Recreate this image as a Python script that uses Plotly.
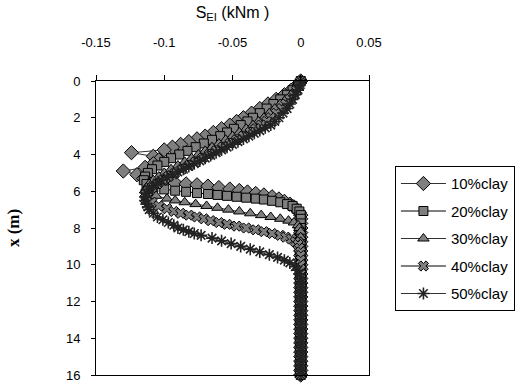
import plotly.graph_objects as go

# ---------------- data ----------------
SERIES_NAMES = ["10%clay", "20%clay", "30%clay", "40%clay", "50%clay"]

X_TICKS = [-0.15, -0.1, -0.05, 0, 0.05]
X_TICK_TEXT = ["-0.15", "-0.1", "-0.05", "0", "0.05"]
Y_TICKS = [0, 2, 4, 6, 8, 10, 12, 14, 16]

# depth x (m) and S_EI (kNm) for each series
D10 = [0, 0.25, 0.5, 0.75, 1.0, 1.25, 1.5, 1.75, 2.0, 2.2, 2.4, 2.6, 2.8, 3.0,
       3.15, 3.3, 3.45, 3.6, 3.75, 3.9, 4.1, 4.3, 4.5, 4.7, 4.9, 5.1, 5.3, 5.45,
       5.5, 5.55, 5.6, 5.65, 5.72, 5.8, 5.88, 5.96, 6.04, 6.12, 6.2, 6.3, 6.42,
       6.55, 6.7, 6.85, 7.0, 7.15, 7.3, 7.5, 7.75, 8.0, 8.25, 8.5, 8.75, 9.0,
       9.25, 9.5, 9.75, 10.0, 10.25, 10.5, 10.75]
S10 = [0, -0.003, -0.007, -0.012, -0.018, -0.024, -0.030, -0.036, -0.042, -0.047,
       -0.052, -0.058, -0.064, -0.070, -0.076, -0.082, -0.088, -0.094, -0.100,
       -0.124, -0.108, -0.104, -0.108, -0.114, -0.130, -0.120, -0.115, -0.110,
       -0.100, -0.092, -0.084, -0.076, -0.068, -0.060, -0.052, -0.045, -0.039,
       -0.033, -0.027, -0.021, -0.016, -0.012, -0.008, -0.005, -0.003, -0.001, 0,
       0, 0, 0, 0, 0, 0, 0, 0, 0, 0, 0, 0, 0, 0]

D20 = [0, 0.25, 0.5, 0.75, 1.0, 1.25, 1.5, 1.75, 2.0, 2.2, 2.4, 2.6, 2.8, 3.0,
       3.2, 3.4, 3.6, 3.8, 4.0, 4.2, 4.4, 4.6, 4.8, 5.0, 5.2, 5.4, 5.6, 5.8,
       5.9, 5.97, 6.03, 6.1, 6.15, 6.2, 6.25, 6.3, 6.35, 6.4, 6.45, 6.52, 6.6,
       6.7, 6.8, 6.95, 7.1, 7.3, 7.5, 7.75, 8.0, 8.25, 8.5, 8.75, 9.0, 9.25,
       9.5, 9.75, 10.0, 10.25, 10.5, 10.75]
S20 = [0, -0.002, -0.006, -0.010, -0.015, -0.020, -0.025, -0.030, -0.035, -0.039,
       -0.044, -0.049, -0.054, -0.059, -0.065, -0.071, -0.077, -0.083, -0.089,
       -0.095, -0.100, -0.105, -0.109, -0.112, -0.114, -0.115, -0.113, -0.108,
       -0.100, -0.092, -0.084, -0.076, -0.068, -0.061, -0.054, -0.047, -0.040,
       -0.033, -0.027, -0.021, -0.015, -0.010, -0.006, -0.003, -0.001, 0,
       0, 0, 0, 0, 0, 0, 0, 0, 0, 0, 0, 0, 0, 0]

D30 = [0, 0.25, 0.5, 0.75, 1.0, 1.25, 1.5, 1.75, 2.0, 2.2, 2.4, 2.6, 2.8, 3.0,
       3.2, 3.4, 3.6, 3.8, 4.0, 4.2, 4.4, 4.6, 4.8, 5.0, 5.2, 5.4, 5.6, 5.8,
       5.95, 6.1, 6.25, 6.4, 6.5, 6.6, 6.7, 6.8, 6.9, 7.0, 7.1, 7.2, 7.3, 7.4,
       7.5, 7.6, 7.7, 7.85, 8.0, 8.2, 8.5, 8.75, 9.0, 9.25, 9.5, 9.75, 10.0,
       10.25, 10.5, 10.75]
S30 = [0, -0.002, -0.004, -0.007, -0.011, -0.015, -0.019, -0.023, -0.027, -0.031,
       -0.035, -0.040, -0.045, -0.050, -0.055, -0.060, -0.065, -0.070, -0.075,
       -0.080, -0.085, -0.090, -0.095, -0.100, -0.104, -0.108, -0.111, -0.113,
       -0.114, -0.113, -0.106, -0.098, -0.092, -0.085, -0.077, -0.069, -0.061,
       -0.053, -0.045, -0.037, -0.029, -0.022, -0.015, -0.009, -0.005, -0.002,
       -0.001, 0, 0, 0, 0, 0, 0, 0, 0, 0, 0, 0]

D40 = [0, 0.25, 0.5, 0.75, 1.0, 1.25, 1.5, 1.75, 2.0, 2.2, 2.4, 2.6, 2.8, 3.0,
       3.2, 3.4, 3.6, 3.8, 4.0, 4.2, 4.4, 4.6, 4.8, 5.0, 5.2, 5.4, 5.6, 5.8,
       6.0, 6.2, 6.4, 6.6, 6.8, 6.95, 7.1, 7.2, 7.3, 7.4, 7.5, 7.6, 7.7, 7.8,
       7.9, 8.0, 8.1, 8.2, 8.3, 8.4, 8.5, 8.6, 8.75, 8.9, 9.1, 9.3, 9.5, 9.75,
       10.0, 10.25, 10.5, 10.75]
S40 = [0, -0.001, -0.003, -0.005, -0.008, -0.011, -0.014, -0.018, -0.022, -0.025,
       -0.029, -0.033, -0.037, -0.042, -0.047, -0.052, -0.057, -0.062, -0.067,
       -0.072, -0.077, -0.082, -0.087, -0.092, -0.097, -0.101, -0.105, -0.109,
       -0.112, -0.114, -0.114, -0.109, -0.104, -0.098, -0.093, -0.088, -0.082,
       -0.076, -0.071, -0.066, -0.060, -0.054, -0.047, -0.040, -0.033, -0.027,
       -0.021, -0.015, -0.011, -0.007, -0.004, -0.002, -0.001, 0,
       0, 0, 0, 0, 0, 0]

D50 = [0, 0.25, 0.5, 0.75, 1.0, 1.25, 1.5, 1.75, 2.0, 2.2, 2.4, 2.55, 2.7, 2.85,
       3.0, 3.15, 3.3, 3.45, 3.6, 3.75, 3.9, 4.05, 4.2, 4.35, 4.5, 4.65, 4.8,
       4.95, 5.1, 5.25, 5.4, 5.55, 5.7, 5.9, 6.1, 6.3, 6.5, 6.7, 6.85, 7.0, 7.2,
       7.4, 7.55, 7.7, 7.85, 8.0, 8.1, 8.2, 8.3, 8.4, 8.55, 8.7, 8.85, 9.0,
       9.15, 9.3, 9.45, 9.6, 9.75, 9.9, 10.1, 10.3, 10.5, 10.75]
S50 = [0, -0.001, -0.002, -0.004, -0.006, -0.008, -0.010, -0.013, -0.016, -0.019,
       -0.022, -0.026, -0.030, -0.034, -0.038, -0.042, -0.046, -0.050, -0.054,
       -0.058, -0.062, -0.066, -0.070, -0.074, -0.078, -0.082, -0.086, -0.090,
       -0.094, -0.098, -0.102, -0.105, -0.108, -0.111, -0.113, -0.114, -0.114,
       -0.113, -0.112, -0.111, -0.108, -0.105, -0.101, -0.097, -0.093, -0.090,
       -0.086, -0.082, -0.078, -0.073, -0.065, -0.058, -0.051, -0.044, -0.037,
       -0.030, -0.023, -0.017, -0.012, -0.008, -0.004, -0.002, -0.001, 0]

# common deep part (all series are zero below ~11 m)
TAIL_D = [11, 11.25, 11.5, 11.75, 12, 12.25, 12.5, 12.75, 13, 13.25, 13.5,
          13.75, 14, 14.25, 14.5, 14.75, 15, 15.25, 15.5, 15.75, 16]
TAIL_S = [0, 0, 0, 0, 0, 0, 0, 0, 0, 0, 0, 0, 0, 0, 0, 0, 0, 0, 0, 0, 0]

DEPTHS = [D10, D20, D30, D40, D50]
VALUES = [S10, S20, S30, S40, S50]

# ---------------- styles ----------------
GREY = "#7f7f7f"
STYLES = [
    dict(symbol="diamond", size=11, color=GREY, line=dict(color="#000", width=1)),
    dict(symbol="square", size=9, color=GREY, line=dict(color="#000", width=1)),
    dict(symbol="triangle-up", size=10, color=GREY, line=dict(color="#000", width=1)),
    dict(symbol="x", size=9, color=GREY, line=dict(color="#000", width=1)),
    dict(symbol="asterisk", size=10, color="#222", line=dict(color="#222", width=1.6)),
]
LINE_COLORS = ["#333", "#000", "#333", "#000", "#333"]

fig = go.Figure()
for i, name in enumerate(SERIES_NAMES):
    fig.add_trace(go.Scatter(
        x=VALUES[i] + TAIL_S,
        y=DEPTHS[i] + TAIL_D,
        mode="lines+markers",
        name=name,
        legendgroup=name,
        line=dict(color=LINE_COLORS[i], width=1),
        marker=STYLES[i],
        cliponaxis=False,
    ))

fig.update_layout(
    width=529, height=384,
    margin=dict(l=96, r=160, t=81, b=9, autoexpand=False),
    paper_bgcolor="white", plot_bgcolor="white",
    font=dict(family="Arial, Liberation Sans, sans-serif", color="#000", size=13),
    showlegend=True,
    legend=dict(
        x=1.095, y=0.71, xanchor="left", yanchor="top",
        bordercolor="#000", borderwidth=1, bgcolor="white",
        font=dict(size=15, family="Arial, Liberation Sans, sans-serif"),
        traceorder="grouped", tracegroupgap=5, itemwidth=45,
    ),
)

fig.update_xaxes(
    side="top", range=[-0.15, 0.05],
    tickmode="array", tickvals=X_TICKS, ticktext=X_TICK_TEXT,
    ticks="outside", ticklen=5, tickcolor="#000", tickwidth=1,
    showline=True, linecolor="#000", linewidth=1, mirror=True,
    showgrid=False, zeroline=False,
    tickfont=dict(size=13),
    ticklabelstandoff=23, ticklabeloverflow="allow",
    title=dict(text="S<sub>EI</sub> (kNm )", font=dict(size=16), standoff=12),
)
fig.update_yaxes(
    range=[16, 0], autorange=False,
    tickmode="array", tickvals=Y_TICKS,
    ticks="outside", ticklen=4, tickcolor="#000", tickwidth=1,
    showline=True, linecolor="#000", linewidth=1, mirror=True,
    showgrid=False, zeroline=False,
    tickfont=dict(size=13),
    ticklabelstandoff=8, ticklabeloverflow="allow",
    title=dict(text="<b>x (m)</b>",
               font=dict(size=17, family="Liberation Serif, Times New Roman, serif"),
               standoff=41),
)

fig.write_html("out.html", config={"displayModeBar": False},
               post_script="document.body.style.margin='0';")
